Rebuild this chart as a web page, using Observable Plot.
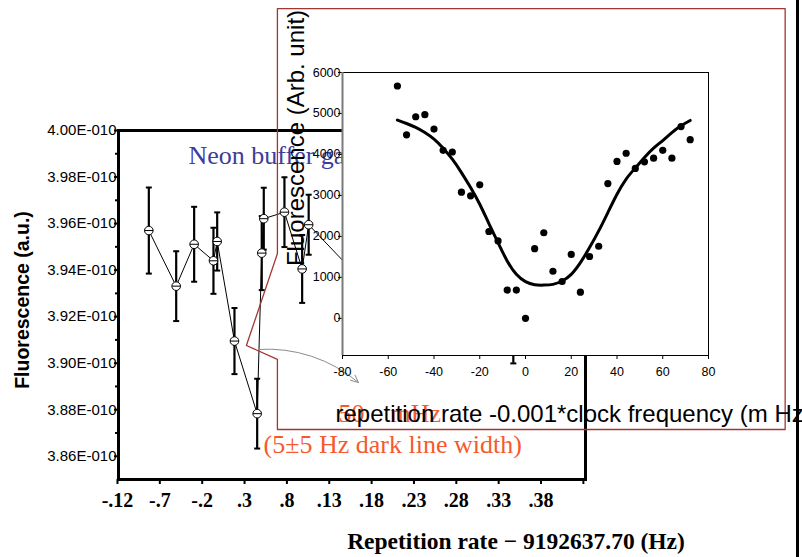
<!DOCTYPE html>
<html><head><meta charset="utf-8">
<script src="https://cdn.jsdelivr.net/npm/d3@7"></script>
<script src="https://cdn.jsdelivr.net/npm/@observablehq/plot@0.6"></script>
<style>
html,body{margin:0;padding:0;background:#fff;}
#chart{position:relative;width:802px;height:557px;overflow:hidden;background:#fff;}
#chart svg{position:absolute;left:0;top:0;}
#edge{position:absolute;left:796px;top:0;width:3px;height:557px;background:#000;}
</style></head><body><div id="chart"></div>
<script>
// ---- Main chart: repetition rate offset (Hz) vs fluorescence (×1E-010 a.u.)
const repRate  = [-0.083, -0.0507, -0.0295, -0.0067, -0.0023, 0.0181, 0.0449, 0.0503, 0.0527, 0.0771, 0.098, 0.1057, 0.1549, 0.3473];
const fluor    = [3.957, 3.9331, 3.9511, 3.944, 3.9523, 3.9095, 3.8783, 3.9473, 3.9621, 3.9649, 3.9405, 3.9595, 3.9407, 3.9141];
const fluorErr = [0.0185, 0.015, 0.0161, 0.0142, 0.0125, 0.0142, 0.015, 0.0159, 0.0133, 0.015, 0.0146, 0.0129, 0.014, 0.0142];
const repTicks = [-0.12, -0.07, -0.02, 0.03, 0.08, 0.13, 0.18, 0.23, 0.28, 0.33, 0.38, 0.43];
const repTickLabels = ["-.12", "-.7", "-.2", ".3", ".8", ".13", ".18", ".23", ".28", ".33", ".38", ""];
const fluorTicks = [3.86, 3.88, 3.90, 3.92, 3.94, 3.96, 3.98, 4.00];
const fluorTickLabels = ["3.86E-010", "3.88E-010", "3.90E-010", "3.92E-010", "3.94E-010", "3.96E-010", "3.98E-010", "4.00E-010"];
const fluorMinor = [3.87, 3.89, 3.91, 3.93, 3.95, 3.97, 3.99];

// ---- Inset: detuning (mHz) vs fluorescence counts
const detuning = [-56, -52, -48, -44, -40, -36, -32, -28, -24, -20, -16, -12, -8, -4, 0, 4, 8, 12, 16, 20, 24, 28, 32, 36, 40, 44, 48, 52, 56, 60, 64, 68, 72];
const counts   = [5670, 4480, 4920, 4970, 4620, 4100, 4060, 3080, 2990, 3260, 2120, 1890, 690, 690, 0, 1700, 2090, 1150, 900, 1560, 640, 1510, 1760, 3290, 3830, 4030, 3660, 3820, 3910, 4100, 3910, 4680, 4360];
const fitX = [-56, -52, -48, -44, -40, -36, -32, -28, -24, -20, -16, -12, -8, -4, 0, 4, 8, 12, 16, 20, 24, 28, 32, 36, 40, 44, 48, 52, 56, 60, 64, 68, 72];
const fitY = [4838, 4756, 4659, 4535, 4373, 4153, 3884, 3558, 3192, 2785, 2313, 1849, 1401, 1075, 896, 820, 812, 830, 912, 1075, 1360, 1727, 2134, 2582, 3030, 3400, 3670, 3926, 4153, 4340, 4535, 4700, 4830];
const detTicks = [-80, -60, -40, -20, 0, 20, 40, 60, 80];
const countTicks = [0, 1000, 2000, 3000, 4000, 5000, 6000];

// ---- Annotation shapes (main chart data units)
const calloutX = [0.6682, 0.0688, 0.0688, 0.0322, 0.0688, 0.0688, 0.6682, 0.6682];
const calloutY = [4.0524, 4.0524, 3.9471, 3.9076, 3.9016, 3.8715, 3.8715, 4.0524];
const arrowSpec = [{x1: 0.0464, y1: 3.9059, x2: 0.1644, y2: 3.8917}];

const mainPts = repRate.map((x, i) => ({x, y: fluor[i], e: fluorErr[i]}));
const scatter = detuning.map((x, i) => ({x, y: counts[i]}));
const fit = fitX.map((x, i) => ({x, y: fitY[i]}));
const callout = calloutX.map((x, i) => ({x, y: calloutY[i]}));
const repLabel = new Map(repTicks.map((t, i) => [t, repTickLabels[i]]));
const fluorLabel = new Map(fluorTicks.map((t, i) => [t, fluorTickLabels[i]]));

const theta = {draw(ctx, size) { const r = Math.sqrt(size / Math.PI); ctx.moveTo(r, 0); ctx.arc(0, 0, r, 0, 2 * Math.PI); ctx.moveTo(-r, 0); ctx.lineTo(r, 0); }};
const cap = {draw(ctx, size) { const r = Math.sqrt(size / Math.PI); ctx.moveTo(-r, 0); ctx.lineTo(r, 0); }};

const serif = "Liberation Serif, Times New Roman, serif";
const sans = "Liberation Sans, Arial, sans-serif";
const orange = "#f65a2c";

const main = Plot.plot({
  width: 802, height: 557,
  marginLeft: 118, marginRight: 217, marginTop: 130, marginBottom: 78,
  style: {background: "transparent", overflow: "visible", fontFamily: sans, color: "black"},
  x: {domain: [-0.1188, 0.4325], axis: null},
  y: {domain: [3.85, 4.0], axis: null},
  marks: [
    Plot.axisY(fluorTicks, {anchor: "left", label: null, tickSize: 4, tickPadding: -2, strokeWidth: 2, fontSize: 15, fontFamily: sans, tickFormat: d => fluorLabel.get(d)}),
    Plot.axisY(fluorMinor, {anchor: "left", label: null, tickSize: 3, strokeWidth: 2, tickFormat: () => ""}),
    Plot.axisX(repTicks, {anchor: "bottom", label: null, tickSize: 5, tickPadding: 8, strokeWidth: 2, fontSize: 20, fontWeight: "bold", fontFamily: serif, tickFormat: d => repLabel.get(d)}),
    Plot.frame({stroke: "black", strokeWidth: 3}),
    Plot.text(["Neon buffer gas"], {frameAnchor: "top-left", dx: 70, dy: 33, textAnchor: "start", lineAnchor: "bottom", fontFamily: serif, fontSize: 26, fill: "#3d3d9b"}),
    Plot.line(mainPts, {x: "x", y: "y", stroke: "black", strokeWidth: 1}),
    Plot.ruleX(mainPts, {x: "x", y1: d => d.y - d.e, y2: d => d.y + d.e, stroke: "black", strokeWidth: 2.2}),
    Plot.dot(mainPts, {x: "x", y: d => d.y - d.e, symbol: cap, r: 3, stroke: "black", strokeWidth: 2}),
    Plot.dot(mainPts, {x: "x", y: d => d.y + d.e, symbol: cap, r: 3, stroke: "black", strokeWidth: 2}),
    Plot.dot(mainPts, {x: "x", y: "y", symbol: theta, r: 4.3, fill: "white", stroke: "black", strokeWidth: 1}),
    Plot.line(callout, {x: "x", y: "y", stroke: "#a33434", strokeWidth: 1.3}),
    Plot.text(["Fluorescence (a.u.)"], {frameAnchor: "left", dx: -96, dy: -5, rotate: -90, textAnchor: "middle", fontFamily: sans, fontWeight: "bold", fontSize: 19.5, fill: "black"}),
    Plot.text(["Repetition rate \u2212 9192637.70 (Hz)"], {frameAnchor: "bottom", dx: 164, dy: 69, textAnchor: "middle", lineAnchor: "bottom", fontFamily: serif, fontWeight: "bold", fontSize: 23.5, fill: "black"}),
    Plot.text(["(5\u00b15 Hz dark line width)"], {frameAnchor: "top-left", dx: 145, dy: 322, textAnchor: "start", lineAnchor: "bottom", fontFamily: serif, fontSize: 26, fill: orange}),
    Plot.text(["50\u2003mHz"], {frameAnchor: "top-left", dx: 220, dy: 291, textAnchor: "start", lineAnchor: "bottom", fontFamily: serif, fontSize: 26, fill: orange}),
    Plot.arrow(arrowSpec, {x1: "x1", y1: "y1", x2: "x2", y2: "y2", bend: 22, stroke: "#8c8c8c", strokeWidth: 1, headLength: 12, headAngle: 50})
  ]
});

const inset = Plot.plot({
  width: 802, height: 557,
  marginLeft: 342, marginRight: 94, marginTop: 72, marginBottom: 202,
  style: {background: "transparent", overflow: "visible", fontFamily: sans, color: "black"},
  x: {domain: [-80, 80], axis: null},
  y: {domain: [-906, 6000], axis: null},
  marks: [
    Plot.frame({fill: "white", stroke: null}),
    Plot.axisY(countTicks, {anchor: "left", label: null, tickSize: 4, tickPadding: -2, fontSize: 12.5, fontFamily: sans, tickFormat: d => String(d)}),
    Plot.axisX(detTicks, {anchor: "bottom", label: null, tickSize: 4, tickPadding: 8, fontSize: 12.5, fontFamily: sans, tickFormat: d => String(d)}),
    Plot.frame({stroke: "black", strokeWidth: 1}),
    Plot.ruleX([-80], {stroke: "#7a7a7a", strokeWidth: 2}),
    Plot.line(fit, {x: "x", y: "y", curve: "natural", stroke: "black", strokeWidth: 3}),
    Plot.dot(scatter, {x: "x", y: "y", r: 3.6, fill: "black", stroke: null}),
    Plot.text(["Fluorescence (Arb. unit)"], {frameAnchor: "left", dx: -46, dy: -76, rotate: -90, textAnchor: "middle", fontFamily: sans, fontSize: 24, fill: "black"}),
    Plot.text(["repetition rate -0.001*clock frequency (m Hz)"], {frameAnchor: "bottom-left", dx: -7, dy: 66, textAnchor: "start", lineAnchor: "bottom", fontFamily: sans, fontSize: 24, fill: "black"})
  ]
});

const chart = document.getElementById("chart");
chart.appendChild(main);
chart.appendChild(inset);
const edge = document.createElement("div");
edge.id = "edge";
chart.appendChild(edge);
</script></body></html>
